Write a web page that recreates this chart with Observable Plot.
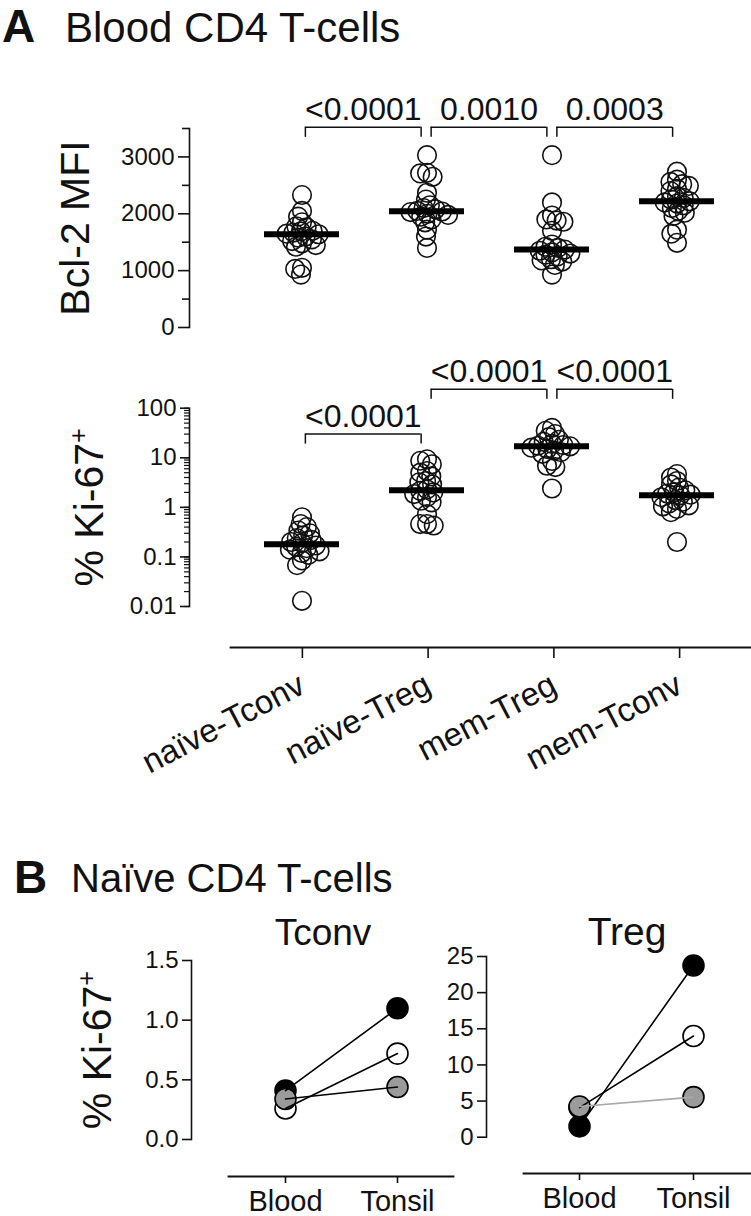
<!DOCTYPE html>
<html><head><meta charset="utf-8">
<script src="https://cdn.jsdelivr.net/npm/d3@7"></script>
<script src="https://cdn.jsdelivr.net/npm/@observablehq/plot@0.6"></script>
<style>
html,body{margin:0;padding:0;background:#fff;overflow:hidden}
#root{position:relative;width:751px;height:1216px;font-family:"Liberation Sans",Arial,sans-serif;color:#111;background:#fff}
.t{position:absolute;white-space:nowrap;line-height:1}
</style></head><body><div id="root"></div>
<script>
// ---------- data ----------
const groups = ["naïve-Tconv", "naïve-Treg", "mem-Treg", "mem-Tconv"];

const bcl2NaiveTconv = [2330, 2050, 1950, 1850, 1780, 1760, 1700, 1690, 1670, 1650, 1640, 1600, 1580, 1550, 1520, 1480, 1450, 1420, 1050, 1030, 930];
const bcl2NaiveTreg  = [3030, 2720, 2710, 2650, 2370, 2250, 2150, 2100, 2080, 2050, 2040, 2030, 2000, 1980, 1950, 1900, 1850, 1720, 1600, 1400];
const bcl2MemTreg    = [3030, 2200, 1970, 1900, 1880, 1860, 1700, 1460, 1420, 1400, 1370, 1350, 1320, 1300, 1280, 1250, 1200, 1180, 1160, 1100, 930];
const bcl2MemTconv   = [2740, 2600, 2560, 2520, 2490, 2440, 2400, 2310, 2280, 2250, 2220, 2200, 2180, 2150, 2100, 2050, 2020, 1960, 1720, 1650, 1490];

const ki67NaiveTconv = [0.63, 0.46, 0.40, 0.34, 0.30, 0.27, 0.24, 0.22, 0.20, 0.19, 0.17, 0.16, 0.15, 0.14, 0.13, 0.12, 0.11, 0.085, 0.068, 0.013];
const ki67NaiveTreg  = [9.3, 8.7, 7.4, 5.4, 5.0, 4.2, 3.4, 3.2, 2.9, 2.3, 2.15, 2.0, 1.85, 1.6, 1.36, 1.26, 0.73, 0.46, 0.46, 0.43];
const ki67MemTreg    = [40, 35, 30, 26, 23, 21, 19, 18, 17.5, 17, 16, 15, 14, 13, 12, 8.6, 6.9, 6.5, 2.4];
const ki67MemTconv   = [4.7, 4.0, 3.4, 2.9, 2.5, 2.2, 2.0, 1.9, 1.8, 1.75, 1.6, 1.4, 1.3, 1.2, 1.1, 1.05, 0.93, 0.8, 0.2];

const bcl2Ticks = [0, 1000, 2000, 3000];
const bcl2MinorTicks = [500, 1500, 2500, 3500];
const ki67Ticks = [0.01, 0.1, 1, 10, 100];

const bcl2P = ["<0.0001", "0.0010", "0.0003"];
const bcl2BracketAt = [3520, 3520, 3520];
const ki67P = ["<0.0001", "<0.0001", "<0.0001"];
const ki67BracketAt = [30, 240, 240];

const tissues = ["Blood", "Tonsil"];
const donors = ["Donor 1", "Donor 2", "Donor 3"];
const tconvBlood  = [0.41, 0.26, 0.34];
const tconvTonsil = [1.10, 0.72, 0.44];
const tregBlood   = [1.5, 4.1, 4.25];
const tregTonsil  = [23.75, 14.0, 5.55];
const tconvTicks = [0, 0.5, 1.0, 1.5];
const tregTicks  = [0, 5, 10, 15, 20, 25];

// ---------- helpers ----------
const root = document.getElementById("root");
const W = 751;
const INK = "#111";
const DOT_R = 9.3;
const baseStyle = {background: "transparent", fontFamily: '"Liberation Sans", Arial, sans-serif', color: INK, overflow: "visible"};
const bandRange = [237, 740];
const centerRange = [237 + 62.875, 740 - 62.875];
const donorFill = {"Donor 1": "#000", "Donor 2": "#fff", "Donor 3": "#9b9b9b"};
const drawOrder = ["Donor 2", "Donor 1", "Donor 3"];

function place(node, left, top) {
  node.style.position = "absolute";
  node.style.left = left + "px";
  node.style.top = top + "px";
  root.appendChild(node);
  return node;
}
function label(text, left, top, size, weight, center) {
  const d = document.createElement("div");
  d.className = "t";
  d.textContent = text;
  d.style.left = left + "px";
  d.style.top = top + "px";
  d.style.fontSize = size + "px";
  if (weight) d.style.fontWeight = weight;
  if (center) d.style.transform = "translateX(-50%)";
  root.appendChild(d);
}
function superPlus(svg) {
  svg.querySelectorAll("text").forEach(t => {
    if (t.textContent === "% Ki-67+") {
      t.textContent = "% Ki-67";
      const s = document.createElementNS("http://www.w3.org/2000/svg", "tspan");
      s.setAttribute("dy", "-0.62em");
      s.setAttribute("font-size", "0.62em");
      s.textContent = "+";
      t.appendChild(s);
    }
  });
}
const rowsOf = series => groups.flatMap((g, i) => series[i].map(v => ({group: g, value: v})));
const bracketsOf = (ps, at) => ps.map((p, i) => ({from: i, to: i + 1, p, at: at[i]}));
const yTitle = (text, dx) => Plot.text([text], {frameAnchor: "left", textAnchor: "middle", rotate: -90, dx, lineAnchor: "bottom", fontSize: 41, fill: INK});

// dodge lays the circles out with a small collision radius (so they overlap,
// as in the original scatter), then the circles are drawn at full size.
const enlarge = (index, scales, values, dims, ctx, next) => {
  const g = next(index, scales, values, dims, ctx);
  g.querySelectorAll("circle").forEach(c => c.setAttribute("r", DOT_R));
  return g;
};

function swarm(rows, y, height, mt, mb) {
  return Plot.plot({
    width: W, height, marginTop: mt, marginBottom: mb, marginLeft: 0, marginRight: 0,
    style: baseStyle,
    fx: {domain: groups, range: bandRange, padding: 0, axis: null, label: null},
    y: {...y, axis: null},
    marks: [
      Plot.dot(rows, Plot.dodgeX({anchor: "middle", padding: -0.5},
        {fx: "group", y: "value", r: 3.7, stroke: INK, strokeWidth: 1.6, fill: "none", render: enlarge})),
      Plot.tickY(rows, Plot.groupZ({y: "median"},
        {fx: "group", y: "value", stroke: "#000", strokeWidth: 6, insetLeft: 25, insetRight: 25}))
    ]
  });
}
function bracketMarks(br) {
  const s = {stroke: INK, strokeWidth: 1.5};
  return [
    Plot.ruleY(br, {x1: "from", x2: "to", y: "at", insetLeft: 5, insetRight: 5, ...s}),
    Plot.ruleX(br, {x: "from", y1: "at", y2: "at", dx: 5, insetBottom: -10, ...s}),
    Plot.ruleX(br, {x: "to", y1: "at", y2: "at", dx: -5, insetBottom: -10, ...s}),
    Plot.text(br, {x: d => (d.from + d.to) / 2, y: "at", text: "p", dy: -7, lineAnchor: "bottom", fontSize: 32, fill: INK})
  ];
}

// ---------- titles ----------
label("A", 2, 3, 46, "bold");
label("Blood CD4 T-cells", 65, 6.5, 42);
label("B", 14, 854, 46, "bold");
label("Naïve CD4 T-cells", 71, 858, 40);
label("Tconv", 323, 914, 37, null, true);
label("Treg", 627, 912, 39, null, true);

// ---------- panel A, Bcl-2 ----------
const bcl2Y = {domain: [0, 3500]};
place(swarm(rowsOf([bcl2NaiveTconv, bcl2NaiveTreg, bcl2MemTreg, bcl2MemTconv]), bcl2Y, 280, 68, 13), 0, 60);
place(Plot.plot({
  width: W, height: 280, marginTop: 68, marginBottom: 13, marginLeft: 189, marginRight: 11,
  style: baseStyle,
  x: {domain: [0, 3], range: centerRange, axis: null},
  y: {...bcl2Y, axis: null, label: null},
  marks: [
    Plot.frame({anchor: "left", stroke: INK, strokeWidth: 1.6}),
    Plot.axisY({ticks: bcl2Ticks, tickFormat: "d", tickSize: 11, tickPadding: 4, fontSize: 24, strokeWidth: 1.6, label: null}),
    Plot.axisY({ticks: bcl2MinorTicks, tickSize: 7, text: null, strokeWidth: 1.6, label: null}),
    ...bracketMarks(bracketsOf(bcl2P, bcl2BracketAt)),
    yTitle("Bcl-2 MFI", -101)
  ]
}), 0, 60);

// ---------- panel A, Ki-67 ----------
const kiY = {type: "log", domain: [0.01, 100]};
place(swarm(rowsOf([ki67NaiveTconv, ki67NaiveTreg, ki67MemTreg, ki67MemTconv]), kiY, 300, 67.7, 34), 0, 340);
const kiOverlay = Plot.plot({
  width: W, height: 300, marginTop: 67.7, marginBottom: 34, marginLeft: 189, marginRight: 11,
  style: baseStyle,
  x: {domain: [0, 3], range: centerRange, axis: null},
  y: {...kiY, axis: null, label: null},
  marks: [
    Plot.frame({anchor: "left", stroke: INK, strokeWidth: 1.6}),
    Plot.axisY({ticks: ki67Ticks, tickFormat: d => String(d), tickSize: 9, tickPadding: 4, fontSize: 24, strokeWidth: 1.6, label: null}),
    Plot.axisY({ticks: 40, tickSize: 5, text: null, strokeWidth: 1.2, label: null}),
    ...bracketMarks(bracketsOf(ki67P, ki67BracketAt)),
    yTitle("% Ki-67+", -87)
  ]
});
superPlus(kiOverlay);
place(kiOverlay, 0, 340);

// category axis
place(Plot.plot({
  width: W, height: 170, marginTop: 7, marginBottom: 163, marginLeft: 230, marginRight: 0,
  style: baseStyle,
  x: {domain: [0, 3], range: centerRange, axis: null},
  marks: [
    Plot.frame({anchor: "bottom", stroke: INK, strokeWidth: 1.8}),
    Plot.axisX({ticks: [0, 1, 2, 3], tickFormat: i => groups[i], tickSize: 11, tickPadding: 24, dx: 2, tickRotate: -27.5, fontSize: 33, strokeWidth: 1.6, label: null})
  ]
}), 0, 640);

// ---------- panel B ----------
function paired(blood, tonsil, ticks, fmt, yDomain, opts) {
  const rows = donors.flatMap((d, i) => [
    {donor: d, tissue: "Blood", value: blood[i]},
    {donor: d, tissue: "Tonsil", value: tonsil[i]}
  ]);
  const dotRows = drawOrder.flatMap(d => rows.filter(r => r.donor === d));
  const marks = [
    Plot.frame({anchor: "left", stroke: INK, strokeWidth: 1.6}),
    Plot.axisY({ticks, tickFormat: fmt, tickSize: 9, tickPadding: 4, fontSize: 24, strokeWidth: 1.6, label: null}),
    Plot.dot(dotRows, {x: "tissue", y: "value", r: 10.5, fill: d => donorFill[d.donor], stroke: "#000", strokeWidth: 1.6}),
    Plot.line(rows, {x: "tissue", y: "value", z: "donor", stroke: opts.lineColor, strokeWidth: 1.6})
  ];
  if (opts.ylabel) marks.push(yTitle(opts.ylabel, -81));
  const svg = Plot.plot({
    width: opts.width, height: 210, marginTop: opts.mt, marginBottom: opts.mb, marginLeft: opts.ml, marginRight: 0,
    style: baseStyle,
    x: {type: "point", domain: tissues, range: opts.xr, padding: 0, axis: null},
    y: {domain: yDomain, axis: null, label: null},
    marks
  });
  superPlus(svg);
  return svg;
}
function tissueAxis(ml, width, xr) {
  return Plot.plot({
    width, height: 50, marginTop: 7, marginBottom: 43, marginLeft: ml, marginRight: 0,
    style: baseStyle,
    x: {type: "point", domain: tissues, range: xr, padding: 0, axis: null},
    marks: [
      Plot.frame({anchor: "bottom", stroke: INK, strokeWidth: 1.8}),
      Plot.axisX({tickSize: 7, tickPadding: 7, fontSize: 29, strokeWidth: 1.6, label: null})
    ]
  });
}
place(paired(tconvBlood, tconvTonsil, tconvTicks, d3.format(".1f"), [0, 1.5],
  {width: 470, mt: 20, mb: 11, ml: 191, xr: [284.25, 396.75], lineColor: "#000", ylabel: "% Ki-67+"}), 0, 940);
place(paired(tregBlood, tregTonsil, tregTicks, "d", [0, 25],
  {width: W, mt: 16, mb: 13.3, ml: 486, xr: [579, 693], lineColor: d => d.donor === "Donor 3" ? "#a8a8a8" : "#000"}), 0, 940);
place(tissueAxis(228, 453, [284.25, 396.75]), 0, 1169);
place(tissueAxis(523, W, [579, 693]), 0, 1166);
</script></body></html>
